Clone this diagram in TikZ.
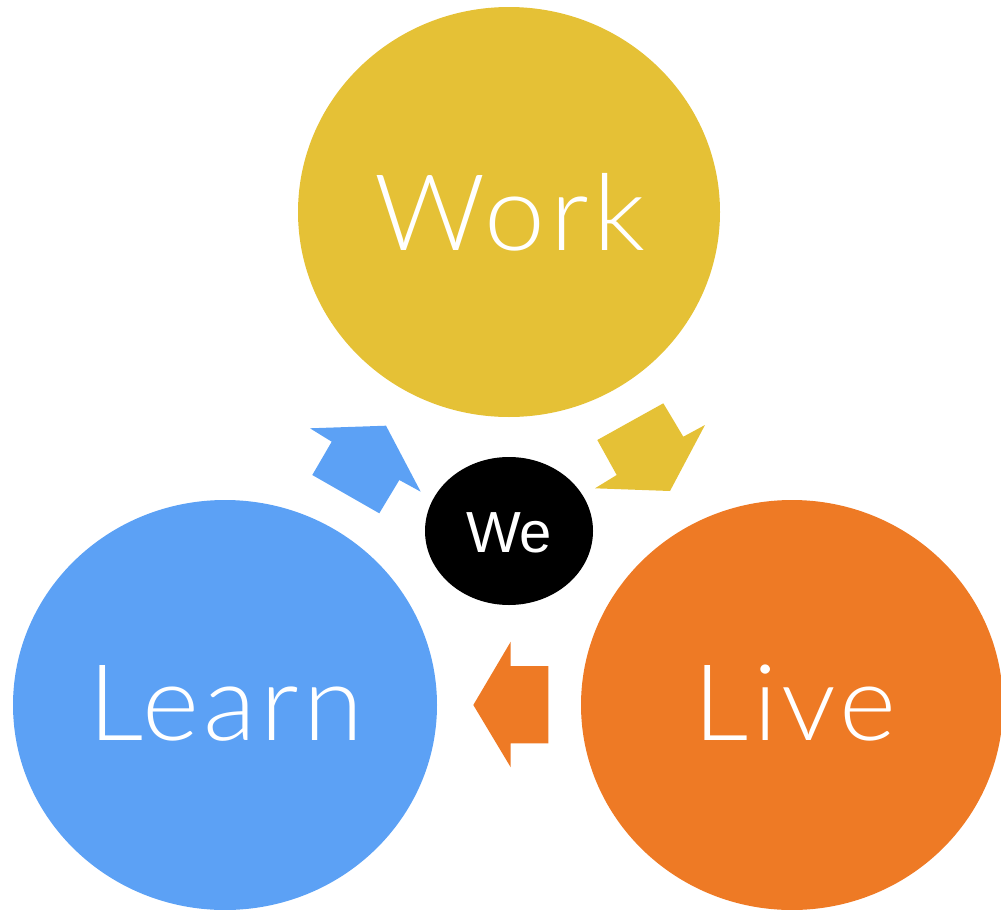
\documentclass[tikz,border=0pt]{standalone}
\usepackage{fontspec}
\setmainfont{Liberation Sans}
\newfontfamily\labelfont{Lato Light}[LetterSpace=4]
\newfontfamily\centerfont{Liberation Sans}
\definecolor{workyellow}{HTML}{E5C136}
\definecolor{learnblue}{HTML}{5CA1F5}
\definecolor{liveorange}{HTML}{EE7A25}
\begin{document}
\begin{tikzpicture}[x=1pt,y=-1pt,
  biglabel/.style={font=\labelfont\fontsize{106}{106}\selectfont, text=white, xscale=1.03, transform shape}]
\useasboundingbox (0,0) rectangle (1001,910);
\clip (0,0) rectangle (1001,910);
% three main circles
\fill[workyellow] (509,212) ellipse [x radius=211, y radius=205];
\fill[learnblue] (225,705) ellipse [x radius=212, y radius=205];
\fill[liveorange] (792,705) ellipse [x radius=211, y radius=205];
\node[biglabel] (work) at (510,212) {Work};
\node[biglabel] (learn) at (226,703) {Learn};
\node[biglabel] (live) at (795,703) {Live};
% central hub
\fill[black] (509,531) ellipse [x radius=84, y radius=74];
\node[text=white, font=\centerfont\fontsize{58}{58}\selectfont] (we) at (509,533) {We};
% block arrows between the circles
\fill[learnblue] (310,428.3) -- (386,425.7) -- (420.7,491.7) -- (399.3,480)
  -- (379.3,513.3) -- (312.3,475) -- (331.7,441.7) -- cycle;
\fill[workyellow] (597.3,440) -- (663.3,403.3) -- (683.3,436.7) -- (705,425)
  -- (670,491) -- (595,488.3) -- (616.7,475) -- cycle;
\fill[liveorange] (473.3,705) -- (510.7,641.7) -- (510.7,666) -- (548.3,666)
  -- (548.3,743.3) -- (510.7,743.3) -- (510.7,767.3) -- cycle;
\end{tikzpicture}
\end{document}
